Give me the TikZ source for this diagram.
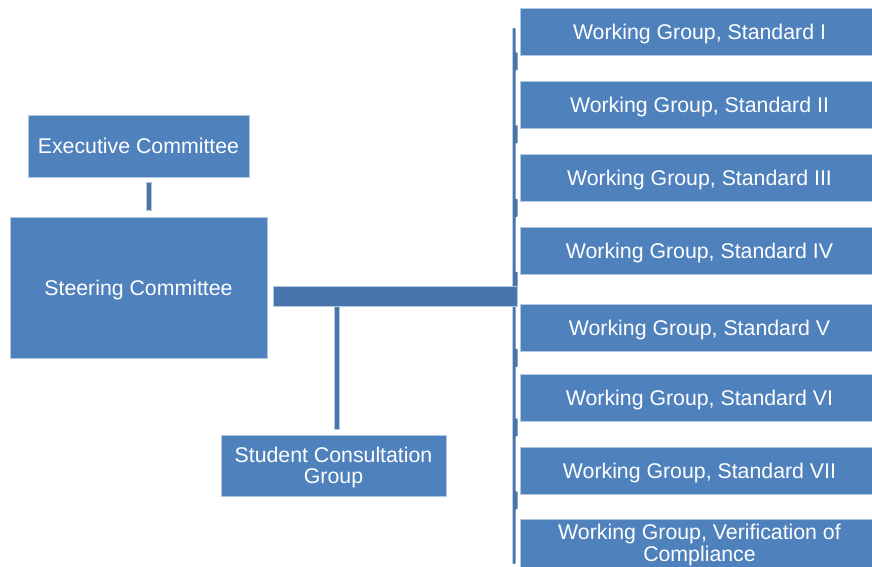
\documentclass[tikz,border=0pt]{standalone}
\usepackage{fontspec}
\setmainfont{Liberation Sans}
\usetikzlibrary{calc}
\definecolor{boxblue}{RGB}{79,129,189}
\definecolor{linkblue}{RGB}{72,117,171}
\definecolor{edgeblue}{RGB}{178,199,226}
\begin{document}
\begin{tikzpicture}[x=1pt,y=-1pt,
  unit/.style={fill=boxblue, draw=edgeblue, line width=0.7pt, text=white,
    font=\fontsize{21.3}{21.5}\selectfont, align=center, inner sep=0pt, text depth=0pt},
  wg/.style={unit, minimum width=359pt, minimum height=47pt},
  link/.style={fill=linkblue, draw=edgeblue, line width=0.5pt},
  spine/.style={fill=linkblue}]
\clip (0,0) rectangle (872,567);
\fill[white] (0,0) rectangle (872,567);

% committees
\node[unit, minimum width=221pt, minimum height=62pt] (exec) at (138.5,146) {Executive Committee};
\node[unit, minimum width=257pt, minimum height=141pt] (steer) at (138.5,287.5) {Steering Committee};
\node[unit, minimum width=225pt, minimum height=61pt] (student) at (333.5,465.5) {Student Consultation\\Group};

% working groups
\node[wg] (wg1) at (699.5,31.5)  {Working Group, Standard I};
\node[wg] (wg2) at (699.5,104.5) {Working Group, Standard II};
\node[wg] (wg3) at (699.5,178)   {Working Group, Standard III};
\node[wg] (wg4) at (699.5,251)   {Working Group, Standard IV};
\node[wg] (wg5) at (699.5,328)   {Working Group, Standard V};
\node[wg] (wg6) at (699.5,397.5) {Working Group, Standard VI};
\node[wg] (wg7) at (699.5,470.5) {Working Group, Standard VII};
\node[wg, minimum height=48pt] (wg8) at (699.5,543) {Working Group, Verification of\\Compliance};

% spine of the working-group bracket
\coordinate (spinetop) at (514,28);
\coordinate (spinebot) at (514,564);
\fill[spine, rounded corners=1pt] ($(spinetop)+(-1.5,0)$) rectangle ($(spinebot)+(1.5,0)$);
\foreach \g in {wg1,wg2,wg3,wg4,wg5,wg6,wg7}{
  \fill[spine, rounded corners=1pt] ($(\g.south west)+(-6,-3)$) rectangle ($(\g.south west)+(-2,15)$);
}

% executive -> steering
\draw[link] ($(exec.south)+(7.5,5)$) rectangle ($(steer.north)+(12.5,-6)$);
% steering -> bracket
\coordinate (barlow) at ($(steer.east)+(6,18.5)$);
\draw[link] ($(steer.east)+(6,-1.5)$) rectangle ($(spinetop |- barlow)+(3,0)$);
% bar -> student consultation group
\draw[link] ($(student.north)+(0.5,-5)$) rectangle ($(student.north |- barlow)+(5.5,0)$);
\end{tikzpicture}
\end{document}
